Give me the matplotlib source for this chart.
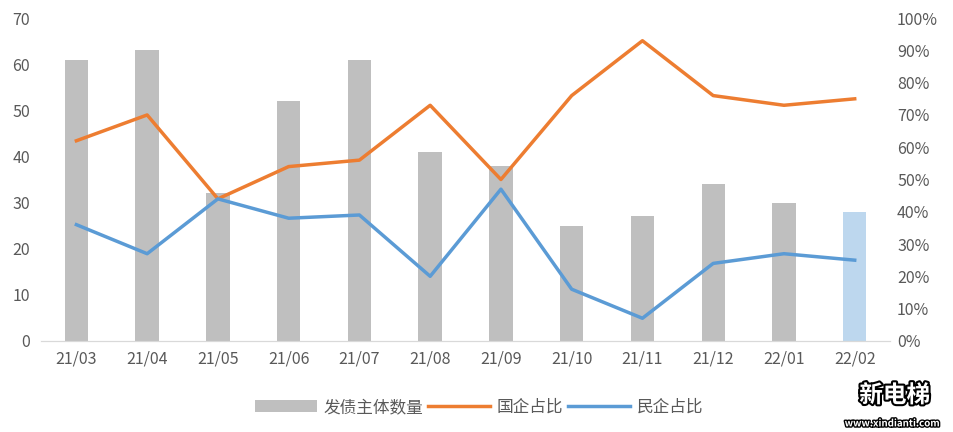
import numpy as np
import matplotlib
matplotlib.use('Agg')
from matplotlib import pyplot as plt
import matplotlib.patheffects as pe

plt.rcParams['font.family'] = ['Noto Sans CJK SC', 'DejaVu Sans']

months = ['21/03', '21/04', '21/05', '21/06', '21/07', '21/08',
          '21/09', '21/10', '21/11', '21/12', '22/01', '22/02']
issuers = [61, 63, 32, 52, 61, 41, 38, 25, 27, 34, 30, 28]
soe_share = [62, 70, 44, 54, 56, 73, 50, 76, 93, 76, 73, 75]
private_share = [36, 27, 44, 38, 39, 20, 47, 16, 7, 24, 27, 25]

txt = '#595959'
x = np.arange(len(months))
bar_colors = ['#bfbfbf'] * (len(months) - 1) + ['#bdd7ee']

fig = plt.figure(figsize=(9.54, 4.32), dpi=100)
ax = fig.add_axes([0.043, 0.211, 0.89, 0.747])
ax2 = ax.twinx()

bars = ax.bar(x, issuers, width=0.33, color=bar_colors, label='发债主体数量', zorder=1)
l1, = ax2.plot(x, soe_share, color='#ed7d31', lw=2.5, label='国企占比')
l2, = ax2.plot(x, private_share, color='#5b9bd5', lw=2.5, label='民企占比')

ax.set_xlim(-0.5, len(months) - 0.5)
ax.set_ylim(0, 70)
ax.set_yticks(range(0, 71, 10))
ax2.set_ylim(0, 100)
ax2.set_yticks(range(0, 101, 10))
ax2.set_yticklabels(['%d%%' % v for v in range(0, 101, 10)])
ax.set_xticks(x)
ax.set_xticklabels(months)

for a in (ax, ax2):
    for s in ('top', 'left', 'right'):
        a.spines[s].set_visible(False)
    a.spines['bottom'].set_color('#d9d9d9')
    a.tick_params(length=0, labelsize=11.5, colors=txt)
ax.tick_params(axis='x', pad=7)
ax.tick_params(axis='y', pad=8)
ax2.tick_params(axis='y', pad=5)

fig.legend([bars, l1, l2], ['发债主体数量', '国企占比', '民企占比'],
           loc='center', bbox_to_anchor=(0.502, 0.057), ncol=3, frameon=False,
           fontsize=12, labelcolor=txt, handlelength=3.7, handleheight=0.8,
           columnspacing=0.3, handletextpad=0.4)

# watermark
fig.text(0.975, 0.085, '新电梯', fontsize=17, fontweight='bold', color='white',
         ha='right', va='center',
         path_effects=[pe.withStroke(linewidth=3, foreground='black')])
fig.text(0.985, 0.02, 'www.xindianti.com', fontsize=7, fontweight='bold', color='white',
         ha='right', va='center',
         path_effects=[pe.withStroke(linewidth=2, foreground='black')])

plt.savefig('out.png', dpi=100)
